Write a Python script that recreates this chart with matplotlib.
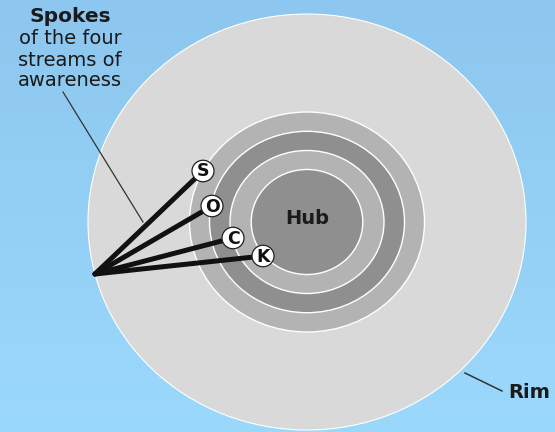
import matplotlib
matplotlib.use("Agg")
import matplotlib.pyplot as plt
from matplotlib.patches import Ellipse
import numpy as np

# ---- diagram content ----
ring_labels = ["Rim", "Outer ring", "Middle ring", "Inner ring", "Hub"]
ring_rx = [219, 117.5, 97.5, 77, 55.8]
ring_ry = [208, 110, 90.7, 71.5, 52.5]
ring_colors = ["#d9d9d9", "#b3b3b3", "#8f8f8f", "#b3b3b3", "#8f8f8f"]
spoke_labels = ["S", "O", "C", "K"]
spoke_end_x = [203, 212, 233, 263]
spoke_end_y = [171, 206, 238, 256]
hub_center = (307, 222)
spoke_origin = (95, 274)

W, H = 555, 432
fig = plt.figure(figsize=(W / 100, H / 100), dpi=100)
ax = fig.add_axes([0, 0, 1, 1])
ax.set_xlim(0, W)
ax.set_ylim(H, 0)
ax.axis("off")

# background gradient
top = np.array([0x8d, 0xc6, 0xee]) / 255
bot = np.array([0x9b, 0xd9, 0xfc]) / 255
t = np.linspace(0, 1, 256)[:, None]
grad = top[None, None, :] * (1 - t[..., None]) + bot[None, None, :] * t[..., None]
grad = np.repeat(grad, 2, axis=1)
ax.imshow(grad, extent=[0, W, H, 0], aspect="auto", zorder=0)

# rings
for i, (rx, ry, c) in enumerate(zip(ring_rx, ring_ry, ring_colors)):
    ax.add_patch(Ellipse(hub_center, 2 * rx, 2 * ry, facecolor=c,
                         edgecolor="white", lw=1.0 if i else 0.8, zorder=1 + i))

ax.text(hub_center[0], hub_center[1] - 3, "Hub", ha="center", va="center",
        fontsize=14, fontweight="bold", color="#1a1a1a", zorder=10)

# spokes
for lab, ex, ey in zip(spoke_labels, spoke_end_x, spoke_end_y):
    ax.plot([spoke_origin[0], ex], [spoke_origin[1], ey], color="#111111",
            lw=3.6, solid_capstyle="round", zorder=11)
for lab, ex, ey in zip(spoke_labels, spoke_end_x, spoke_end_y):
    ax.add_patch(Ellipse((ex, ey), 22, 21.5, facecolor="white",
                         edgecolor="#222222", lw=0.9, zorder=12))
    ax.text(ex, ey + 0.5, lab, ha="center", va="center", fontsize=12.5,
            fontweight="bold", color="#111111", zorder=13)

# spokes annotation
ax.plot([63, 143], [92, 222], color="#333333", lw=0.9, zorder=9)
ax.text(70, 17, "Spokes", ha="center", va="center", fontsize=14.5,
        fontweight="bold", color="#1a1a1a")
for k, line in enumerate(["of the four", "streams of", "awareness"]):
    ax.text(70, 39 + k * 21, line, ha="center", va="center", fontsize=14,
            color="#1a1a1a")

# rim annotation
ax.plot([465, 502], [373, 391], color="#333333", lw=1.1, zorder=9)
ax.text(508, 393, "Rim", ha="left", va="center", fontsize=14,
        fontweight="bold", color="#1a1a1a")

fig.savefig("out.png", dpi=100)
